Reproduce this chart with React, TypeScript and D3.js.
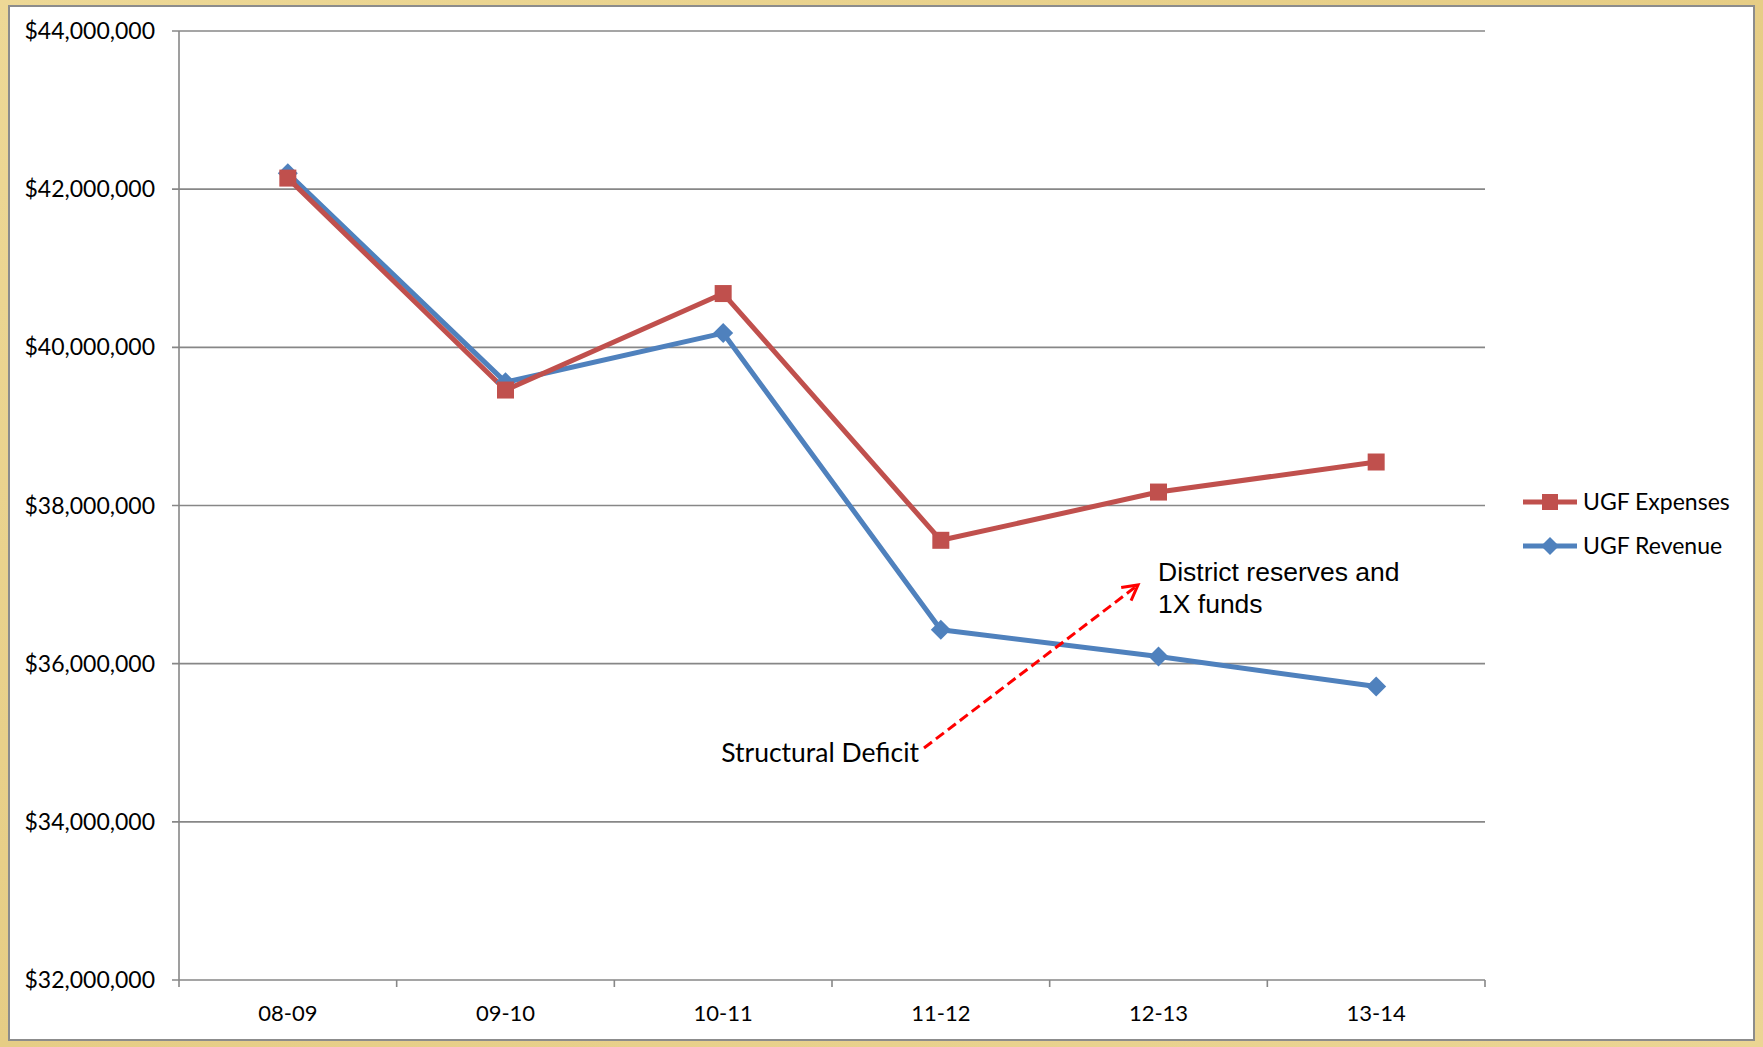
import React from "react";
import * as d3 from "d3";

const categories = ["08-09", "09-10", "10-11", "11-12", "12-13", "13-14"];
const expenses = [42140000, 39460000, 40680000, 37560000, 38170000, 38550000];
const revenue = [42200000, 39560000, 40180000, 36430000, 36090000, 35710000];
const yTicks = [32000000, 34000000, 36000000, 38000000, 40000000, 42000000, 44000000];
const seriesNames = ["UGF Expenses", "UGF Revenue"];
const annotationTop = ["District reserves and", "1X funds"];
const annotationBottom = "Structural Deficit";

const W = 1763;
const H = 1047;
const RED = "#C0504D";
const BLUE = "#4F81BD";
const GRID = "#878787";
const FONT = "Lato, 'Open Sans', sans-serif";

export default function App() {
  const left = 179, right = 1485, top = 31, bottom = 980;
  const x = d3.scaleBand().domain(categories).range([left, right]).padding(0);
  const y = d3.scaleLinear().domain([32000000, 44000000]).range([bottom, top]);
  const cx = (c: string) => (x(c) as number) + x.bandwidth() / 2;
  const line = d3.line<number>().x((_, i) => cx(categories[i])).y((v) => y(v));
  const fmt = (v: number) => "$" + d3.format(",")(v);

  const diamond = (px: number, py: number, r: number) =>
    `M${px},${py - r}L${px + r},${py}L${px},${py + r}L${px - r},${py}Z`;

  // annotation arrow
  const a0 = { x: 924, y: 748 };
  const a1 = { x: 1138, y: 585 };
  const ang = Math.atan2(a1.y - a0.y, a1.x - a0.x);
  const ah = 17;
  const h1 = { x: a1.x - ah * Math.cos(ang - 0.5), y: a1.y - ah * Math.sin(ang - 0.5) };
  const h2 = { x: a1.x - ah * Math.cos(ang + 0.5), y: a1.y - ah * Math.sin(ang + 0.5) };

  return (
    <svg width={W} height={H} style={{ position: "absolute", left: 0, top: 0 }}>
      <defs>
        <linearGradient id="bg" x1="0" y1="0" x2="1" y2="1">
          <stop offset="0" stopColor="#EDD896" />
          <stop offset="0.5" stopColor="#E6CD85" />
          <stop offset="1" stopColor="#EBD593" />
        </linearGradient>
      </defs>
      <rect x={0} y={0} width={W} height={H} fill="url(#bg)" />
      <rect x={9} y={6} width={1745} height={1034} fill="#fff" stroke="#8c8c8c" strokeWidth={2} />

      {/* gridlines & y ticks */}
      {yTicks.map((t) => (
        <g key={t}>
          <line x1={172} x2={right} y1={y(t)} y2={y(t)} stroke={GRID} strokeWidth={1.6} />
          <text x={155} y={y(t)} dy="0.35em" textAnchor="end" fontFamily={FONT} fontSize={23} fill="#000">
            {fmt(t)}
          </text>
        </g>
      ))}
      {/* y axis */}
      <line x1={left} x2={left} y1={top} y2={bottom + 7} stroke={GRID} strokeWidth={1.6} />
      {/* x ticks */}
      {categories.map((c) => (
        <line key={"t" + c} x1={(x(c) as number) + x.bandwidth()} x2={(x(c) as number) + x.bandwidth()} y1={bottom} y2={bottom + 7} stroke={GRID} strokeWidth={1.6} />
      ))}
      {categories.map((c) => (
        <text key={"l" + c} x={cx(c)} y={1013} dy="0.35em" textAnchor="middle" fontFamily={FONT} fontSize={22} fill="#000">
          {c}
        </text>
      ))}

      {/* series */}
      <path d={line(revenue) || ""} fill="none" stroke={BLUE} strokeWidth={5} strokeLinejoin="round" />
      <path d={line(expenses) || ""} fill="none" stroke={RED} strokeWidth={5} strokeLinejoin="round" />
      {revenue.map((v, i) => (
        <path key={"r" + i} d={diamond(cx(categories[i]), y(v), 10)} fill={BLUE} />
      ))}
      {expenses.map((v, i) => (
        <rect key={"e" + i} x={cx(categories[i]) - 8.5} y={y(v) - 8.5} width={17} height={17} fill={RED} />
      ))}

      {/* annotations */}
      <line x1={a0.x} y1={a0.y} x2={a1.x} y2={a1.y} stroke="#FF0000" strokeWidth={3} strokeDasharray="10 5" />
      <polyline points={`${h1.x},${h1.y} ${a1.x},${a1.y} ${h2.x},${h2.y}`} fill="none" stroke="#FF0000" strokeWidth={3} />
      <text x={1158} y={581} fontFamily="'Liberation Sans', Arial, sans-serif" fontSize={26.5} fill="#000">
        {annotationTop[0]}
      </text>
      <text x={1158} y={613} fontFamily="'Liberation Sans', Arial, sans-serif" fontSize={26.5} fill="#000">
        {annotationTop[1]}
      </text>
      <text x={919} y={762} textAnchor="end" fontFamily={FONT} fontSize={26.5} fill="#000">
        {annotationBottom}
      </text>

      {/* legend */}
      {seriesNames.map((n, i) => {
        const ly = 502 + i * 44;
        const col = i === 0 ? RED : BLUE;
        return (
          <g key={n}>
            <line x1={1523} x2={1577} y1={ly} y2={ly} stroke={col} strokeWidth={5} />
            {i === 0 ? (
              <rect x={1550 - 8} y={ly - 8} width={16} height={16} fill={col} />
            ) : (
              <path d={diamond(1550, ly, 9)} fill={col} />
            )}
            <text x={1583} y={ly} dy="0.35em" fontFamily={FONT} fontSize={23} fill="#000">
              {n}
            </text>
          </g>
        );
      })}
    </svg>
  );
}
